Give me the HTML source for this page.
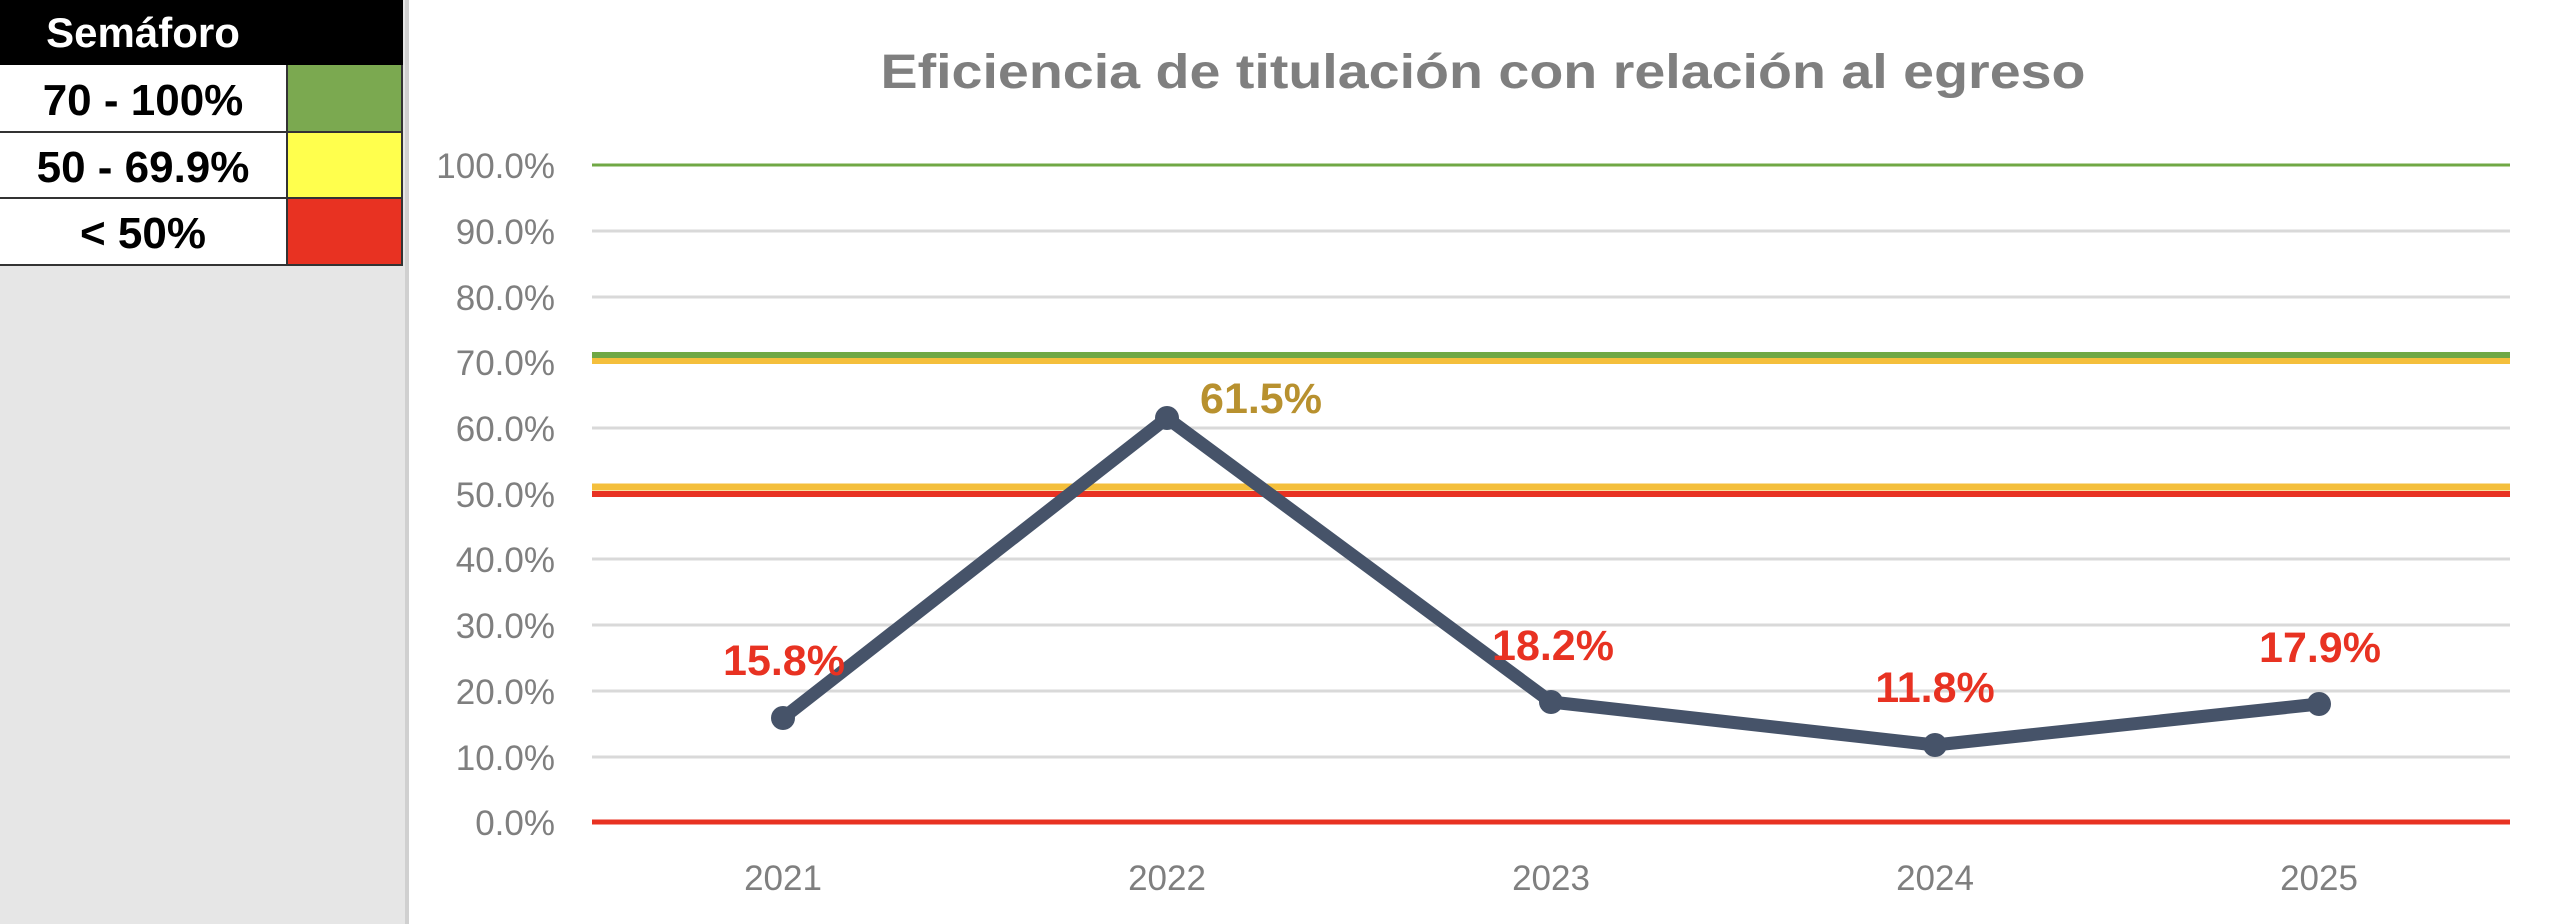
<!DOCTYPE html>
<html><head><meta charset="utf-8"><style>
html,body{margin:0;padding:0;background:#fff;}
body{width:2560px;height:924px;position:relative;overflow:hidden;font-family:"Liberation Sans",sans-serif;}
</style></head><body>
<svg width="2560" height="924" xmlns="http://www.w3.org/2000/svg" style="position:absolute;left:0;top:0">
<rect x="0" y="0" width="405" height="924" fill="#e6e6e6"/>
<rect x="405" y="0" width="4" height="924" fill="#d0d0d0"/>
<rect x="0" y="0" width="403" height="65" fill="#000"/>
<text x="143" y="47" font-size="42" font-weight="bold" fill="#fff" text-anchor="middle" font-family="Liberation Sans, sans-serif">Semáforo</text>
<rect x="0" y="65" width="287" height="200" fill="#fff"/>
<rect x="287" y="65" width="116" height="67" fill="#7ba950"/>
<rect x="287" y="132" width="116" height="66" fill="#ffff4d"/>
<rect x="287" y="198" width="116" height="67" fill="#e83222"/>
<g stroke="#333" stroke-width="2" fill="none">
<line x1="0" y1="132" x2="403" y2="132"/><line x1="0" y1="198" x2="403" y2="198"/><line x1="0" y1="265" x2="403" y2="265"/>
<line x1="287" y1="65" x2="287" y2="265"/><line x1="402" y1="65" x2="402" y2="265"/>
</g>
<g font-size="44" font-weight="bold" fill="#000" text-anchor="middle" font-family="Liberation Sans, sans-serif">
<text x="143" y="115">70 - 100%</text>
<text x="143" y="182">50 - 69.9%</text>
<text x="143" y="248">&lt; 50%</text>
</g>
<text x="1483" y="88" font-size="48" font-weight="bold" fill="#7f7f7f" text-anchor="middle" textLength="1205" lengthAdjust="spacingAndGlyphs">Eficiencia de titulación con relación al egreso</text>
<g stroke="#d9d9d9" stroke-width="3">
<line x1="592" y1="231" x2="2510" y2="231"/><line x1="592" y1="297" x2="2510" y2="297"/>
<line x1="592" y1="428" x2="2510" y2="428"/><line x1="592" y1="559" x2="2510" y2="559"/>
<line x1="592" y1="625" x2="2510" y2="625"/><line x1="592" y1="691" x2="2510" y2="691"/>
<line x1="592" y1="757" x2="2510" y2="757"/>
</g>
<line x1="592" y1="165" x2="2510" y2="165" stroke="#70a845" stroke-width="3"/>
<line x1="592" y1="355" x2="2510" y2="355" stroke="#70a845" stroke-width="6"/>
<line x1="592" y1="361" x2="2510" y2="361" stroke="#f4bf3c" stroke-width="6"/>
<line x1="592" y1="487" x2="2510" y2="487" stroke="#f4bf3c" stroke-width="7"/>
<line x1="592" y1="494" x2="2510" y2="494" stroke="#e83222" stroke-width="6"/>
<line x1="592" y1="822" x2="2510" y2="822" stroke="#e83222" stroke-width="5"/>
<g font-size="35" fill="#7f7f7f" text-anchor="end">
<text x="555" y="178">100.0%</text><text x="555" y="244">90.0%</text><text x="555" y="310">80.0%</text>
<text x="555" y="375">70.0%</text><text x="555" y="441">60.0%</text><text x="555" y="507">50.0%</text>
<text x="555" y="572">40.0%</text><text x="555" y="638">30.0%</text><text x="555" y="704">20.0%</text>
<text x="555" y="770">10.0%</text><text x="555" y="835">0.0%</text>
</g>
<g font-size="35" fill="#7f7f7f" text-anchor="middle">
<text x="783" y="890">2021</text><text x="1167" y="890">2022</text><text x="1551" y="890">2023</text><text x="1935" y="890">2024</text><text x="2319" y="890">2025</text>
</g>
<polyline points="783,718 1167,418 1551,702 1935,745 2319,704" fill="none" stroke="#465369" stroke-width="13" stroke-linejoin="round"/>
<g fill="#465369">
<circle cx="783" cy="718" r="12"/><circle cx="1167" cy="418" r="12"/><circle cx="1551" cy="702" r="12"/><circle cx="1935" cy="745" r="12"/><circle cx="2319" cy="704" r="12"/>
</g>
<g font-size="43" font-weight="bold" text-anchor="middle">
<text x="784" y="675" fill="#e83222">15.8%</text>
<text x="1261" y="413" fill="#b8912f">61.5%</text>
<text x="1553" y="660" fill="#e83222">18.2%</text>
<text x="1935" y="702" fill="#e83222">11.8%</text>
<text x="2320" y="662" fill="#e83222">17.9%</text>
</g>
</svg>
</body></html>
